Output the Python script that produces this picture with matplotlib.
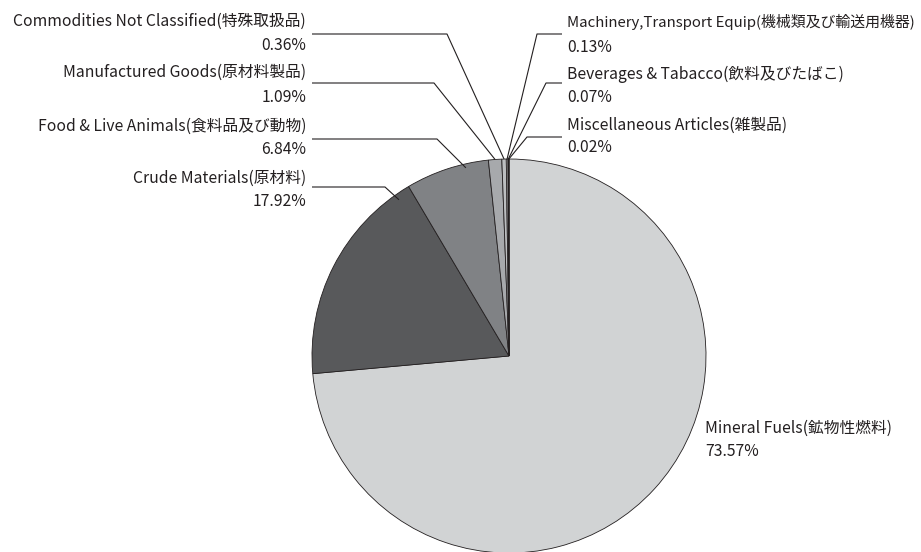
import matplotlib
matplotlib.use('Agg')
import matplotlib.pyplot as plt
import numpy as np

plt.rcParams['font.family'] = ['Noto Sans CJK JP', 'DejaVu Sans']

# ---- data ----
categories = [
    "Mineral Fuels(鉱物性燃料)",
    "Crude Materials(原材料)",
    "Food & Live Animals(食料品及び動物)",
    "Manufactured Goods(原材料製品)",
    "Commodities Not Classified(特殊取扱品)",
    "Machinery,Transport Equip(機械類及び輸送用機器)",
    "Beverages & Tabacco(飲料及びたばこ)",
    "Miscellaneous Articles(雑製品)",
]
shares = [73.57, 17.92, 6.84, 1.09, 0.36, 0.13, 0.07, 0.02]
pct_labels = ["73.57%", "17.92%", "6.84%", "1.09%", "0.36%", "0.13%", "0.07%", "0.02%"]

colors = ['#d1d3d4', '#58595b', '#808285', '#a7a9ac', '#bcbec0', '#ffffff', '#e6e7e8', '#ffffff']
txt_color = '#231f20'

W, H = 921, 552
fig = plt.figure(figsize=(W / 100, H / 100), dpi=100)
ax = fig.add_axes([0, 0, 1, 1])

def Y(y):
    return H - y

cx, cy, R = 509, Y(356), 197
wedges, _ = ax.pie(shares, colors=colors, startangle=90, counterclock=False,
                   center=(cx, cy), radius=R, frame=True,
                   wedgeprops=dict(edgecolor=txt_color, linewidth=0.6))
ax.set_xlim(0, W)
ax.set_ylim(0, H)
ax.set_aspect('equal')
ax.axis('off')

# label layout: (text x, ha, name y, pct y, line y, line start x, elbow x, angle fraction, radius fraction, font size)
layout = {
    0: (705, 'left', 428, 451, None, None, None, None, None, 11.3),
    1: (306, 'right', 178, 201, 187, 312, 385, 0.07, 0.97, 11.3),
    2: (306, 'right', 126, 150, 139, 312, 437, 0.28, 0.98, 11.3),
    3: (306, 'right', 72, 97, 83, 312, 434, 0.5, 1.0, 11.3),
    4: (306, 'right', 21, 46, 34, 312, 447, 0.5, 1.0, 11.3),
    5: (567, 'left', 22, 47, 34, 562, 537, 0.5, 1.0, 10.75),
    6: (567, 'left', 74, 98, 83, 562, 546, 0.5, 1.0, 11.3),
    7: (567, 'left', 125, 148, 137, 562, 527, 0.5, 1.0, 11.3),
}

for i, w in enumerate(wedges):
    tx, ha, yn, yp, ly, lx0, ex, f, rf, fs = layout[i]
    ax.text(tx, Y(yn), categories[i], ha=ha, va='center', fontsize=fs, color=txt_color)
    ax.text(tx, Y(yp), pct_labels[i], ha=ha, va='center', fontsize=11.3, color=txt_color)
    if ly is None:
        continue
    ang = np.deg2rad(w.theta1 + f * (w.theta2 - w.theta1))
    r = w.r * rf
    axp = w.center[0] + r * np.cos(ang)
    ayp = w.center[1] + r * np.sin(ang)
    ax.plot([lx0, ex, axp], [Y(ly), Y(ly), ayp], color=txt_color, lw=0.8,
            solid_capstyle='butt', zorder=5)

fig.savefig('out.png', dpi=100)
